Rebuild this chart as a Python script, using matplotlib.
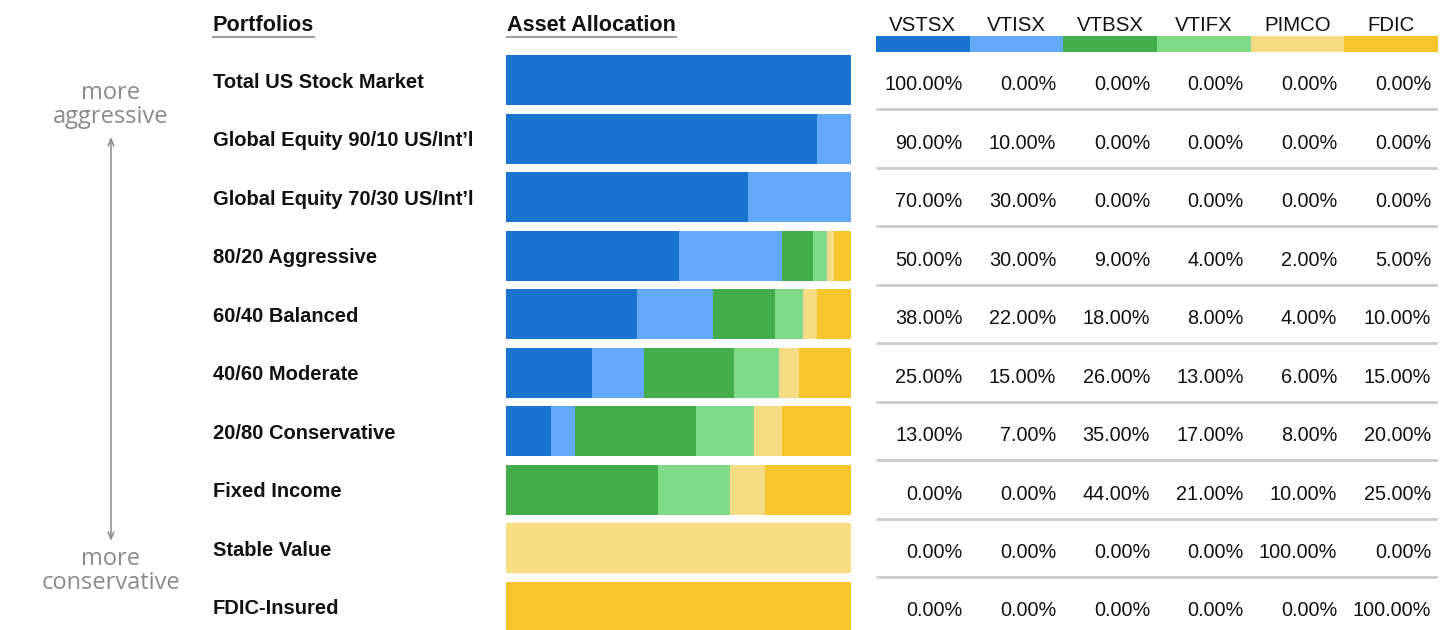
import numpy as np
import matplotlib.pyplot as plt

portfolios = ['Total US Stock Market', 'Global Equity 90/10 US/Int\u2019l',
              'Global Equity 70/30 US/Int\u2019l', '80/20 Aggressive', '60/40 Balanced',
              '40/60 Moderate', '20/80 Conservative', 'Fixed Income', 'Stable Value',
              'FDIC-Insured']
funds = ['VSTSX', 'VTISX', 'VTBSX', 'VTIFX', 'PIMCO', 'FDIC']
vstsx = [100, 90, 70, 50, 38, 25, 13, 0, 0, 0]
vtisx = [0, 10, 30, 30, 22, 15, 7, 0, 0, 0]
vtbsx = [0, 0, 0, 9, 18, 26, 35, 44, 0, 0]
vtifx = [0, 0, 0, 4, 8, 13, 17, 21, 0, 0]
pimco = [0, 0, 0, 2, 4, 6, 8, 10, 100, 0]
fdic = [0, 0, 0, 5, 10, 15, 20, 25, 0, 100]
colors = ['#1a74cf', '#62a9fb', '#42ad4a', '#80db88', '#f6dc85', '#f6c52e']

alloc = np.array([vstsx, vtisx, vtbsx, vtifx, pimco, fdic], dtype=float)

plt.rcParams['font.family'] = ['Liberation Sans', 'DejaVu Sans']

W, H = 1448, 630
row0, pitch = 80, 58.5
ytop = -row0 / pitch
ybot = (H - row0) / pitch
ink = '#111111'

fig = plt.figure(figsize=(W / 100, H / 100), dpi=100)


def col_axes(x0, x1):
    ax = fig.add_axes([x0 / W, 0, (x1 - x0) / W, 1])
    ax.set_ylim(ybot, ytop)
    ax.axis('off')
    return ax


def row_y(px):
    return (px - row0) / pitch


rows = np.arange(len(portfolios))

# stacked bars
bar_ax = col_axes(506, 851)
bar_ax.set_xlim(0, 100)
left = np.zeros(len(portfolios))
for vals, c in zip(alloc, colors):
    bar_ax.barh(rows, vals, left=left, height=50 / pitch, color=c, linewidth=0)
    left += vals

# table with legend strip
tab = col_axes(876, 1438)
tab.set_xlim(0, len(funds))
for j, (f, c) in enumerate(zip(funds, colors)):
    tab.bar(j + 0.5, row_y(52) - row_y(36), bottom=row_y(36), width=1.0,
            color=c, linewidth=0)
    tab.text(j + 0.5, row_y(31), f, ha='center', va='baseline',
             fontsize=14.7, color=ink)
    for i in rows:
        tab.text(j + 1 - 7 / 93.7, i + 10 / pitch, f'{alloc[j, i]:.2f}%',
                 ha='right', va='baseline', fontsize=14.3, color=ink)
for i in rows[:-1]:
    tab.plot([0, len(funds)], [i + 0.5, i + 0.5], color='#cccccc', lw=2,
             solid_capstyle='butt')

# labels and annotation
lab = col_axes(0, 506)
lab.set_xlim(0, 506)
for i, p in enumerate(portfolios):
    lab.text(213, i + 7.5 / pitch, p, ha='left', va='baseline', fontsize=14.5,
             fontweight='bold', color=ink)

h1 = lab.text(213, row_y(31), 'Portfolios', ha='left', va='baseline',
              fontsize=15.6, fontweight='bold', color=ink)
h2 = fig.text(507 / W, 1 - 31 / H, 'Asset Allocation', ha='left', va='baseline',
              fontsize=15.6, fontweight='bold', color=ink)

lab.text(111, row_y(105), 'more\naggressive', ha='center', va='center', fontsize=17,
         family='Open Sans', color='#8a8a8a', linespacing=0.95)
lab.text(111, row_y(571), 'more\nconservative', ha='center', va='center', fontsize=17,
         family='Open Sans', color='#8a8a8a', linespacing=0.95)
lab.annotate('', xy=(111, row_y(137)), xytext=(111, row_y(541)),
             arrowprops=dict(arrowstyle='<->,head_length=0.5,head_width=0.2',
                             color='#8a8a8a', lw=1.1, shrinkA=0, shrinkB=0))

# underline headers to the width of the text
fig.canvas.draw()
r = fig.canvas.get_renderer()
for t in (h1, h2):
    bb = t.get_window_extent(r)
    fig.add_artist(plt.Line2D([bb.x0 / W, bb.x1 / W], [1 - 37 / H, 1 - 37 / H],
                              color='#a0a0a0', lw=1.5, transform=fig.transFigure))

fig.savefig('out.png', dpi=100, facecolor='white')
